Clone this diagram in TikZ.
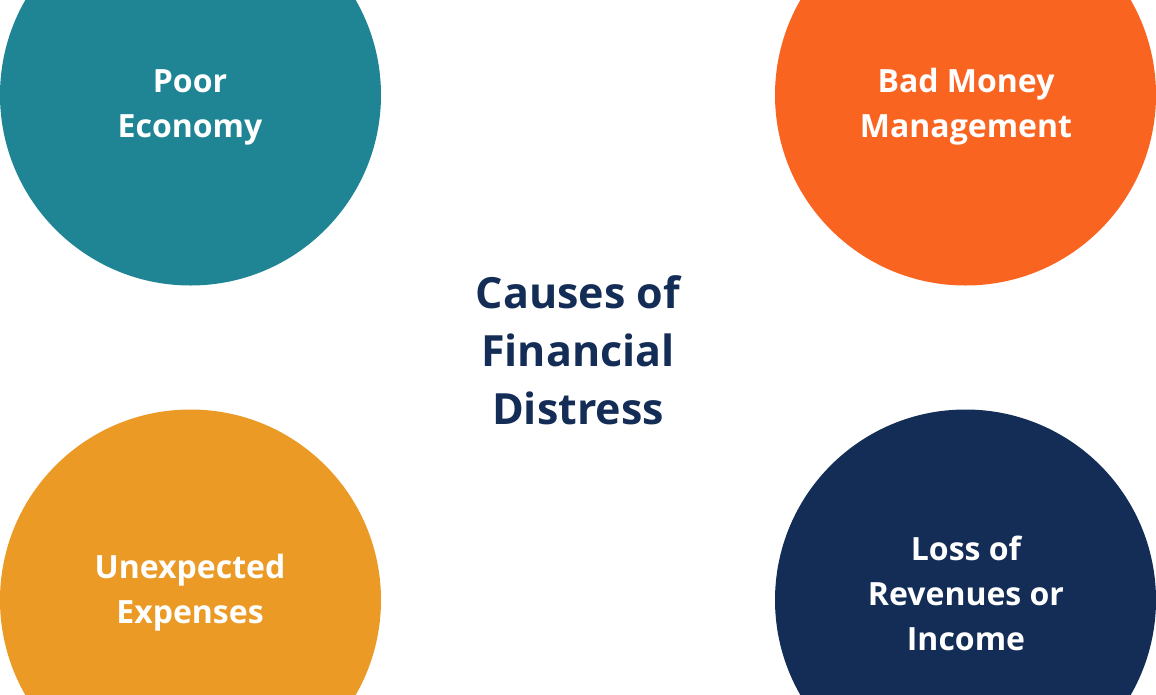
\documentclass[tikz,border=0pt]{standalone}
\usepackage{fontspec}
\setmainfont{Open Sans}
\definecolor{cteal}{HTML}{1F8494}
\definecolor{corange}{HTML}{F96521}
\definecolor{cyellow}{HTML}{EB9A26}
\definecolor{cnavy}{HTML}{142D56}
\begin{document}
\begin{tikzpicture}[x=1pt,y=-1pt,
  blob/.style={circle,minimum size=381pt,inner sep=0pt},
  lbl/.style={text=white,font=\fontsize{32}{45}\selectfont\bfseries,align=center},
  ctr/.style={text=cnavy,font=\fontsize{43}{58}\selectfont\bfseries,align=center}]
\useasboundingbox (0,0) rectangle (1156,694);
\clip (0,0) rectangle (1156,694);
\node[blob,fill=cteal] (c1) at (190.5,95) {};
\node[blob,fill=corange] (c2) at (965.5,95) {};
\node[blob,fill=cyellow] (c3) at (190.5,600) {};
\node[blob,fill=cnavy] (c4) at (965.5,600) {};
\node[lbl] (t1) at (190,107) {Poor\\Economy};
\node[lbl] (t2) at (966,107) {Bad Money\\Management};
\node[lbl] (t3) at (190,593) {Unexpected\\Expenses};
\node[lbl] (t4) at (966,593) {Loss of\\Revenues or\\Income};
\node[ctr] (t0) at (578,350) {Causes of\\Financial\\Distress};
\end{tikzpicture}
\end{document}
